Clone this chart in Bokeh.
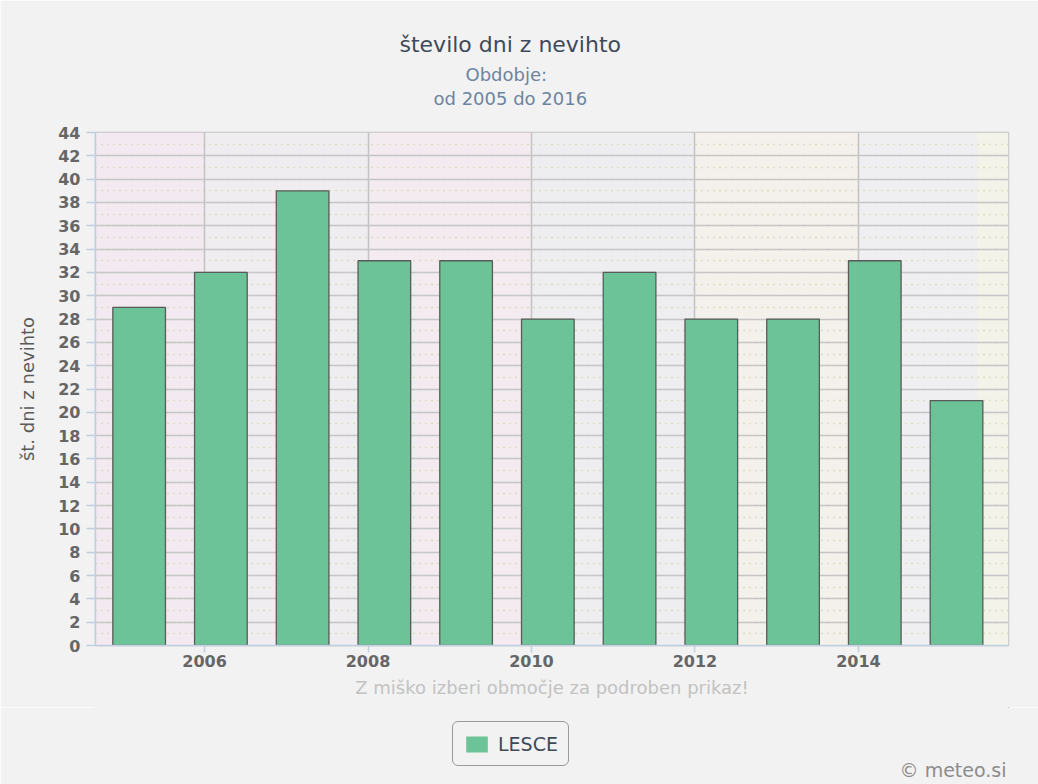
from bokeh.plotting import figure
from bokeh.layouts import column
from bokeh.models import (Range1d, SingleIntervalTicker, FixedTicker, Legend, Label,
                          LegendItem, BoxAnnotation, ColumnDataSource, Title)
from bokeh.embed import file_html
from bokeh.resources import INLINE

# ---- data ----
years = [2005, 2006, 2007, 2008, 2009, 2010, 2011, 2012, 2013, 2014, 2015]
storm_days = [29, 32, 39, 33, 33, 28, 32, 28, 28, 33, 21]
x_ticks = [2006, 2008, 2010, 2012, 2014]
series_name = "LESCE"
title_text = "število dni z nevihto"
subtitle_1 = "Obdobje:"
subtitle_2 = "od 2005 do 2016"
y_title = "št. dni z nevihto"
x_title = "Z miško izberi območje za podroben prikaz!"
credit = "© meteo.si"

FONT = "DejaVu Sans"
BG = "#f2f2f2"
BAR = "#6cc397"
W = 1038
MAIN_H = 707

p = figure(width=W, height=MAIN_H, frame_width=913, frame_height=513,
           min_border_left=95, min_border_right=30, min_border_top=132, min_border_bottom=62,
           x_range=Range1d(2004.666, 2015.836), y_range=Range1d(0, 44),
           output_backend="svg", toolbar_location=None, tools="")
p.title.visible = False
p.background_fill_color = "#f0ecf0"
p.border_fill_color = BG
p.outline_line_color = "#c4c4c4"
p.outline_line_width = 1.5

# decorative background bands
band_edges = [None, 2006, 2008, 2010, 2012, 2014, 2015.45, None]
band_colors = ["#f3eaf1", "#efedf0", "#f3ebf0", "#eeedef", "#f4f0ec", "#efeef0", "#f3f3e9"]
for i, c in enumerate(band_colors):
    p.add_layout(BoxAnnotation(left=band_edges[i], right=band_edges[i + 1],
                               fill_color=c, fill_alpha=1, line_color=None, level="image"))

src = ColumnDataSource(dict(x=[y + 0.2 for y in years], top=storm_days))
p.vbar(x="x", top="top", width=0.644, source=src, fill_color=BAR,
       line_color="#5a5a5a", line_width=1.3)

# axes
p.yaxis.ticker = SingleIntervalTicker(interval=2, num_minor_ticks=2)
p.xaxis.ticker = FixedTicker(ticks=x_ticks)
for ax in (p.xaxis[0], p.yaxis[0]):
    ax.axis_line_color = "#c0d0e0"
    ax.axis_line_width = 1.5
    ax.major_tick_line_color = "#c0d0e0"
    ax.major_tick_line_width = 1.5
    ax.major_tick_in = 0
    ax.minor_tick_line_color = None
    ax.major_label_text_font = FONT
    ax.major_label_text_font_size = "16px"
    ax.major_label_text_font_style = "bold"
    ax.major_label_text_color = "#666666"
    ax.axis_label_text_font = FONT
    ax.axis_label_text_font_style = "normal"
p.yaxis.major_tick_out = 9
p.yaxis.major_label_standoff = 6
p.yaxis.axis_label = y_title
p.yaxis.axis_label_text_font_size = "18px"
p.yaxis.axis_label_text_color = "#5a5a5a"
p.yaxis.axis_label_standoff = 17
p.xaxis.major_tick_out = 7
p.xaxis.major_label_standoff = 2
p.xaxis.axis_label = x_title
p.xaxis.axis_label_text_font_size = "18px"
p.xaxis.axis_label_text_color = "#c2c2c2"
p.xaxis.axis_label_standoff = 7

# grids
p.ygrid.grid_line_color = "#c6c6c6"
p.ygrid.grid_line_width = 1.5
p.ygrid.minor_grid_line_color = "#c5cc9c"
p.ygrid.minor_grid_line_width = 1.5
p.ygrid.minor_grid_line_dash = "1 5"
p.xgrid.grid_line_color = "#c2c2c2"
p.xgrid.grid_line_width = 1.5

# ---- titles (stacked above the frame; first added is closest) ----
p.add_layout(Title(text=" ", text_font_size="1px", standoff=20, text_color=BG), "above")
p.add_layout(Title(text=subtitle_2, align="left", offset=338, standoff=1,
                   text_font=FONT, text_font_size="18px", text_font_style="normal",
                   text_color="#6d84a0"), "above")
p.add_layout(Title(text=subtitle_1, align="left", offset=370, standoff=1,
                   text_font=FONT, text_font_size="18px", text_font_style="normal",
                   text_color="#6d84a0"), "above")
p.add_layout(Title(text=title_text, align="left", offset=304, standoff=9,
                   text_font=FONT, text_font_size="22px", text_font_style="normal",
                   text_color="#3d4a5b"), "above")

# ---- bottom strip: legend and credit (frame aligned with the chart frame) ----
BOT_H = 784 - MAIN_H
bot = figure(width=W, height=BOT_H, x_range=Range1d(95, 1008), y_range=Range1d(784, MAIN_H),
             x_axis_location=None, y_axis_location=None, min_border=0,
             output_backend="svg", toolbar_location=None, tools="")
bot.title.visible = False
bot.grid.visible = False
bot.outline_line_color = BG
bot.outline_line_width = 4
bot.background_fill_color = BG
bot.border_fill_color = BG
# same series, drawn outside this strip's visible range; only its legend swatch shows
leg_r = bot.vbar(x=years, top=storm_days, width=0.644, fill_color=BAR, line_color=None)
leg_kw = dict(items=[LegendItem(label=series_name, renderers=[leg_r])],
              location=(357, 18), orientation="horizontal",
              background_fill_color=BG, background_fill_alpha=1,
              border_line_color="#9a9a9a", border_line_width=1.2, border_line_alpha=1,
              padding=10, margin=0, glyph_width=27, glyph_height=20, label_standoff=8,
              label_height=23,
              label_text_font=FONT, label_text_font_size="19px", label_text_color="#3d4a5b")
if "border_radius" in Legend.properties():
    leg_kw["border_radius"] = 6
bot.add_layout(Legend(**leg_kw), "center")
bot.add_layout(Label(x=1006, y=769, text=credit, text_align="right",
                     text_baseline="alphabetic", text_font=FONT,
                     text_font_size="19px", text_color="#8c8c8c"))

layout = column(p, bot, spacing=0)
open("out.html", "w").write(file_html(layout, INLINE))
